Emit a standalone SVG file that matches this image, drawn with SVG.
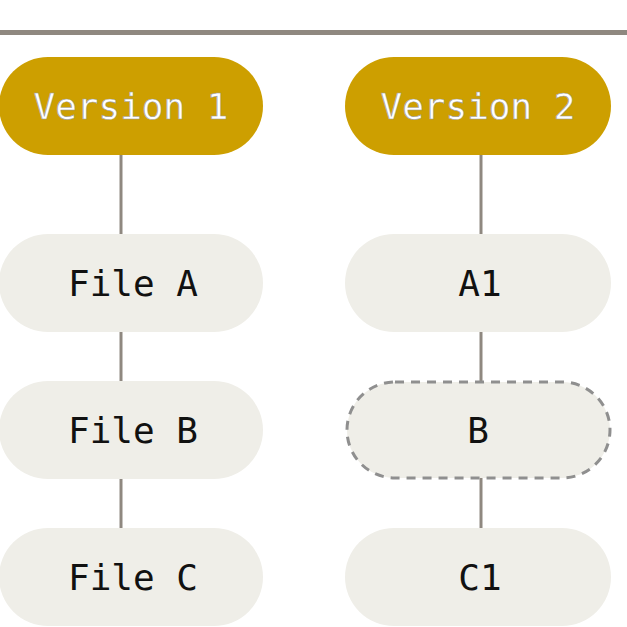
<svg xmlns="http://www.w3.org/2000/svg" width="627" height="627" viewBox="0 0 627 627">
<style>
.ver{fill:#cd9f00}
.file{fill:#efeee8}
.dash{fill:#efeee8;stroke:#8f8f8f;stroke-width:3;stroke-dasharray:9 7}
.vt{font-family:"DejaVu Sans Mono",monospace;font-size:36px;fill:#fff;stroke:#9a9a9a;stroke-width:0.6;text-anchor:middle}
.ft{font-family:"DejaVu Sans Mono",monospace;font-size:36px;fill:#111;text-anchor:middle}
.con{stroke:#8f8880;stroke-width:3;fill:none}
</style>
<rect x="0" y="30" width="627" height="5" fill="#8f8880"/>
<g id="connectors">
<line class="con" x1="121" y1="155" x2="121" y2="234"/>
<line class="con" x1="121" y1="332" x2="121" y2="381"/>
<line class="con" x1="121" y1="479" x2="121" y2="528"/>
<line class="con" x1="481" y1="155" x2="481" y2="234"/>
<line class="con" x1="481" y1="332" x2="481" y2="382"/>
<line class="con" x1="481" y1="478" x2="481" y2="528"/>
</g>
<g id="version1"><rect class="ver" x="-1" y="57" width="264" height="98" rx="49"/><text class="vt" x="131" y="119">Version 1</text></g>
<g id="version2"><rect class="ver" x="345" y="57" width="266" height="98" rx="49"/><text class="vt" x="478" y="119">Version 2</text></g>
<g id="fileA"><rect class="file" x="-1" y="234" width="264" height="98" rx="49"/><text class="ft" x="133" y="296">File A</text></g>
<g id="fileB"><rect class="file" x="-1" y="381" width="264" height="98" rx="49"/><text class="ft" x="133" y="443">File B</text></g>
<g id="fileC"><rect class="file" x="-1" y="528" width="264" height="98" rx="49"/><text class="ft" x="133" y="590">File C</text></g>
<g id="A1"><rect class="file" x="345" y="234" width="266" height="98" rx="49"/><text class="ft" x="480" y="296">A1</text></g>
<g id="B"><rect class="dash" x="347" y="382" width="263" height="96" rx="48"/><text class="ft" x="478" y="443">B</text></g>
<g id="C1"><rect class="file" x="345" y="528" width="266" height="98" rx="49"/><text class="ft" x="480" y="590">C1</text></g>
</svg>
